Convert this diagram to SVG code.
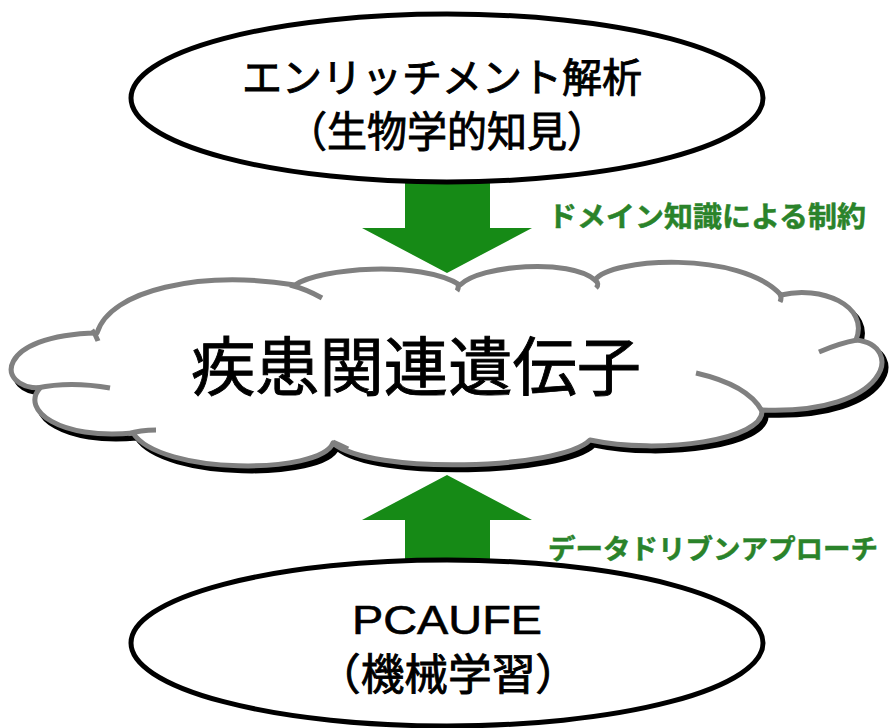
<svg xmlns="http://www.w3.org/2000/svg" width="889" height="728" viewBox="0 0 889 728">
<style>
.jp{font-family:"Noto Sans CJK JP","Noto Sans",sans-serif;fill:#000;stroke:#000;stroke-width:0.9;text-anchor:middle}
.lat{font-family:"Liberation Sans",Arial,sans-serif;fill:#000;stroke:#000;stroke-width:0.6;text-anchor:middle}
.lbl{font-family:"Noto Sans CJK JP",sans-serif;font-weight:700;fill:#2a832a;stroke:#2a832a;stroke-width:0.5}
.ell{fill:#fff;stroke:#000;stroke-width:5}
.arrow{fill:#168a16}
.cloud{fill:#fff;stroke:#808080;stroke-width:5;stroke-linejoin:round}
.shadow{fill:#000;stroke:#000;stroke-width:5}
.inner{fill:none;stroke:#808080;stroke-width:5;stroke-linecap:butt}
</style>
<defs>
<path id="cloudPath" d="M40 388 C-5 388 -5 335 97 333 C110 290 200 270 295 285 C320 268 420 260 460 285 C480 265 570 258 595 280 C610 258 740 250 781 295 C820 285 870 305 856 340 C905 345 890 415 762 410 C765 440 660 455 590 440 C560 470 370 475 333 443 C320 475 160 475 133 433 C60 440 20 410 40 388 Z"/>
</defs>
<rect width="889" height="728" fill="#fff"/>
<g id="connectors">
<polygon class="arrow" points="405,180 490,180 490,228 532,228 447,273 362,228 405,228"/>
<polygon class="arrow" points="447,475 532,520 490,520 490,566 405,566 405,520 362,520"/>
<text class="lbl" x="548" y="227" font-size="28" textLength="318" lengthAdjust="spacingAndGlyphs">ドメイン知識による制約</text>
<text class="lbl" x="548" y="559" font-size="27" textLength="330" lengthAdjust="spacingAndGlyphs">データドリブンアプローチ</text>
</g>
<g id="node-cloud">
<use href="#cloudPath" class="shadow" transform="translate(4,5)"/>
<use href="#cloudPath" class="cloud"/>
<path class="inner" d="M37 388 Q70 381 110 388"/>
<path class="inner" d="M128 434 Q140 430 156 430"/>
<path class="inner" d="M92 330 Q96 335 98 341"/>
<path class="inner" d="M290 285 Q306 289 322 298"/>
<path class="inner" d="M458 284 Q459 288 457 291"/>
<path class="inner" d="M595 280 Q600 284 596 288"/>
<path class="inner" d="M780 294 Q782 298 780 302"/>
<path class="inner" d="M857 340 Q840 343 819 352"/>
<path class="inner" d="M696 373 Q748 385 762 411"/>
<path class="inner" d="M333 442 Q340 445 348 449"/>
<text class="jp" x="416" y="390" font-size="64" textLength="450" lengthAdjust="spacingAndGlyphs">疾患関連遺伝子</text>
</g>
<g id="node-top">
<ellipse class="ell" cx="447" cy="98" rx="316" ry="84"/>
<text class="jp" x="442" y="92" font-size="40" textLength="400" lengthAdjust="spacingAndGlyphs">エンリッチメント解析</text>
<text class="jp" x="447" y="147" font-size="42" textLength="320" lengthAdjust="spacingAndGlyphs">（生物学的知見）</text>
</g>
<g id="node-bottom">
<ellipse class="ell" cx="447" cy="643" rx="316" ry="83"/>
<text class="lat" x="447" y="634" font-size="41" textLength="190" lengthAdjust="spacingAndGlyphs">PCAUFE</text>
<text class="jp" x="448" y="690" font-size="43" textLength="262" lengthAdjust="spacingAndGlyphs">（機械学習）</text>
</g>
</svg>
